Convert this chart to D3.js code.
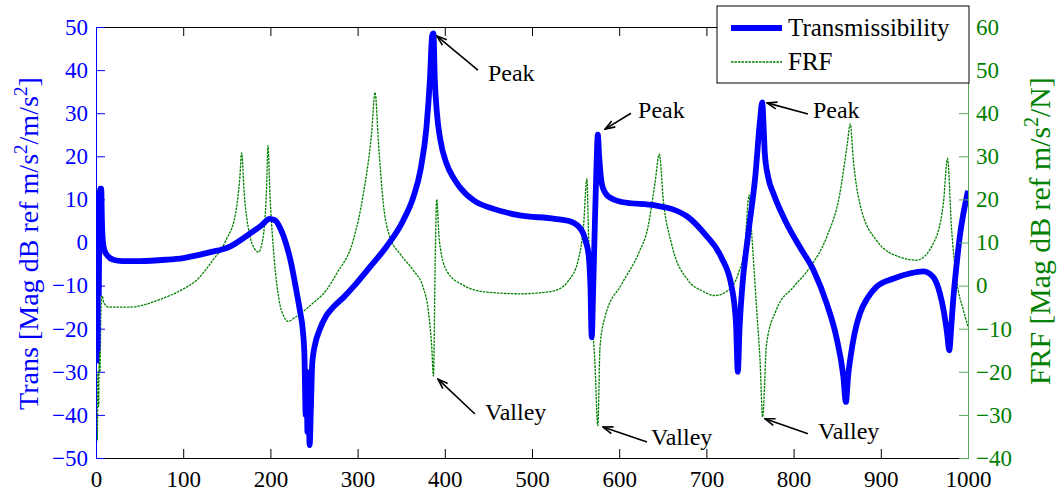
<!DOCTYPE html>
<html>
<head>
<meta charset="utf-8">
<script src="https://cdn.jsdelivr.net/npm/d3@7"></script>
<style>
  body { margin: 0; background: #fff; }
  svg { display: block; }
  svg text { font-family: "Liberation Serif", "Times New Roman", serif; }
</style>
</head>
<body>
<svg width="1061" height="493"></svg>
<script>
// transmissibility (left axis, dB)
var transFreq = [0.3, 1, 1.8, 2.5, 3.2, 4, 5, 6, 6.8, 8, 10, 13, 20, 30, 50, 80, 100, 130, 153, 176, 190, 199, 205, 212, 218, 224, 229, 234, 237, 239, 240.5, 241.5, 242.5, 243.5, 245, 246.5, 248, 252, 256, 264, 272, 285, 295, 314, 333, 352, 364, 372, 379, 383, 385.5, 387, 388.5, 391, 395, 402, 410, 417, 433, 456, 486, 526, 545, 557, 562, 565, 567, 568.5, 570, 572, 574, 575.5, 577, 580, 584, 588, 603, 641, 660, 679, 698, 717, 729, 734, 736, 738, 740.5, 748, 756, 761.5, 764, 766, 767, 771, 777, 792, 807, 823, 838, 849, 857, 860, 862.5, 865, 870, 876, 885, 895, 914, 933, 949, 960, 968, 972, 976, 978.5, 981, 983, 987, 991, 995, 1000];
var transMag = [-28, 3, -25, 8, -12, 10, 12.5, 12.5, 5, 0, -2, -3, -4, -4.3, -4.3, -4, -3.6, -2.3, -1, 2, 4, 5.5, 5.2, 3, -0.3, -5, -10.3, -16, -20, -26, -40, -30, -44, -36, -47, -38, -28, -23, -20.5, -17, -15, -12.5, -10.3, -5.7, -1, 5, 10.6, 16.7, 26.8, 38, 48, 48.5, 38, 30, 23.7, 18.3, 15, 12.9, 9.8, 7.8, 6.3, 5.5, 4.8, 2.8, 0, -3, -10, -22, -12, 3.6, 18, 25, 20, 13.7, 11.5, 10.6, 9.4, 8.6, 7.8, 5.9, 2, -3.4, -10.3, -19, -30, -20, -11.9, 2, 15.2, 28.3, 32.5, 25, 20.6, 15, 11.3, 4.4, -1, -6.5, -14.2, -21.9, -31, -37, -31, -27, -21, -16.5, -12.8, -10.3, -8.4, -7.2, -6.7, -8, -12, -15.7, -21, -25, -19, -13.4, -5, 2, 7, 12];

// FRF (right axis, dB)
var frfFreq = [0, 0.8, 1.5, 2.2, 3, 3.8, 4.6, 5.5, 6.9, 9, 15, 38, 76, 100, 115, 134, 149, 160, 165, 167, 170, 176, 182, 186.5, 190, 193, 195.7, 197.2, 199.5, 204.5, 210, 215, 220, 229, 248, 264, 276, 295, 306.6, 316, 320, 324, 329.5, 337, 348.6, 364, 375, 381, 385, 387, 389, 390.7, 393.7, 402, 421, 448, 486, 517, 532, 542, 553, 559, 563, 564.6, 568.5, 572, 575.5, 578, 583.7, 603, 622, 633, 641, 646, 650.6, 660, 679, 695, 710, 725, 736.6, 744, 749, 752, 757.7, 761.5, 764.5, 769, 780, 800, 819, 838, 853, 861.6, 865, 868.5, 876, 895, 922, 941, 960, 971.7, 976.5, 981, 987, 994.7, 1000];
var frfMag = [-40, -30, -36, -20, -28, -14, -20, -7, -2.3, -4, -5, -5, -3, -0.8, 1.2, 5.9, 10.5, 16.7, 25.2, 30.8, 21.3, 12, 8.5, 7.8, 9.5, 13.6, 22.9, 32.5, 21.3, 5.9, -3.4, -7, -8.3, -7.3, -4.2, -1.1, 2.8, 10.5, 21.3, 35.3, 44.8, 32.9, 19, 11.3, 7.4, 3.5, -0.3, -5.7, -14.2, -21, 5.9, 20, 10.5, 3.5, 0.1, -1.5, -1.9, -1.5, -0.7, 1.2, 5.9, 13.6, 24.8, 13.6, -6.5, -17.3, -32.5, -14.2, -7.3, 0.4, 7.4, 13.6, 23.7, 30.5, 19.8, 9.7, 1.2, -1.2, -2.3, -1.1, 2.8, 9, 21, 12, -5.7, -17.3, -30.5, -13.5, -5.7, -0.3, 4.3, 11.3, 21.3, 32.9, 37.5, 29.1, 19, 10.5, 6.6, 5.9, 9.7, 19, 29.5, 13.6, 1.2, -5.7, -9.5];

var xTicks = [0, 100, 200, 300, 400, 500, 600, 700, 800, 900, 1000];
var leftTicks = [-50, -40, -30, -20, -10, 0, 10, 20, 30, 40, 50];
var rightTicks = [-40, -30, -20, -10, 0, 10, 20, 30, 40, 50, 60];

// annotations, in data units of the left axis: [label, textX, textY, tailX, tailY, headX, headY]
var notes = [
  ["Peak", 449.5, 37.5, 438, 40, 391, 47.9],
  ["Peak", 621.6, 28.9, 613.5, 30, 583.7, 26.3],
  ["Peak", 822.2, 28.9, 816.5, 29.8, 769.5, 32.4],
  ["Valley", 446.1, -41.2, 434.6, -39.8, 392.2, -31.7],
  ["Valley", 636.5, -47.0, 631.9, -46.3, 581.4, -42.8],
  ["Valley", 828.0, -45.6, 816.5, -44.4, 767.2, -40.9]
];

var blue = "#0000ff";
var green = "#008000";
var serif = "'Liberation Serif', 'Times New Roman', serif";

var mLeft = 96, mRight = 968, mTop = 27, mBottom = 458;

var svg = d3.select("svg");

var x = d3.scaleLinear().domain([0, 1000]).range([mLeft, mRight]);
var yL = d3.scaleLinear().domain([-50, 50]).range([mBottom, mTop]);
var yR = d3.scaleLinear().domain([-40, 60]).range([mBottom, mTop]);

var defs = svg.append("defs");
defs.append("clipPath").attr("id", "plot")
    .append("rect").attr("x", mLeft).attr("y", mTop)
    .attr("width", mRight - mLeft).attr("height", mBottom - mTop);
defs.append("marker")
    .attr("id", "arr")
    .attr("viewBox", "0 0 12 10")
    .attr("refX", 11).attr("refY", 5)
    .attr("markerWidth", 12).attr("markerHeight", 10)
    .attr("markerUnits", "userSpaceOnUse")
    .attr("orient", "auto")
    .append("path")
    .attr("d", "M1,1.5 L11,5 L1,8.5")
    .attr("fill", "none").attr("stroke", "#000").attr("stroke-width", 1.6);

// lines
var lineT = d3.line().curve(d3.curveMonotoneX)
    .x(function(d) { return x(d[0]); }).y(function(d) { return yL(d[1]); });
var lineF = d3.line().curve(d3.curveMonotoneX)
    .x(function(d) { return x(d[0]); }).y(function(d) { return yR(d[1]); });

var g = svg.append("g").attr("clip-path", "url(#plot)");

g.append("path")
   .datum(d3.zip(frfFreq, frfMag))
   .attr("d", lineF)
   .attr("fill", "none")
   .attr("stroke", green)
   .attr("stroke-width", 1.3)
   .attr("stroke-dasharray", "2.5,1");

g.append("path")
   .datum(d3.zip(transFreq, transMag))
   .attr("d", lineT)
   .attr("fill", "none")
   .attr("stroke", blue)
   .attr("stroke-width", 5.8)
   .attr("stroke-linejoin", "round");

// axes
function style(sel, col) {
  sel.attr("font-family", null).attr("font-size", null);
  sel.select(".domain").attr("stroke", col);
  sel.selectAll(".tick line").attr("stroke", col);
  sel.selectAll(".tick text").attr("fill", col)
     .style("font-size", "23px").style("font-family", serif);
}

var ax = svg.append("g").attr("transform", "translate(0," + mBottom + ")")
    .call(d3.axisBottom(x).tickValues(xTicks).tickFormat(d3.format("d"))
          .tickSizeInner(-9).tickSizeOuter(0).tickPadding(13));
style(ax, "#000");

var axTop = svg.append("g").attr("transform", "translate(0," + mTop + ")")
    .call(d3.axisTop(x).tickValues(xTicks).tickSizeInner(-9).tickSizeOuter(0).tickFormat(""));
style(axTop, "#000");

var ayL = svg.append("g").attr("transform", "translate(" + mLeft + ",0)")
    .call(d3.axisLeft(yL).tickValues(leftTicks).tickFormat(d3.format("d"))
          .tickSizeInner(-9).tickSizeOuter(0).tickPadding(8));
style(ayL, blue);

var ayR = svg.append("g").attr("transform", "translate(" + mRight + ",0)")
    .call(d3.axisRight(yR).tickValues(rightTicks).tickFormat(d3.format("d"))
          .tickSizeInner(-9).tickSizeOuter(0).tickPadding(8));
style(ayR, "#5aa85a");
ayR.selectAll(".tick text").attr("fill", green);

// axis titles: rotated, fitted between a bottom and a top pixel
function title(px, yBottom, yTop, col, parts) {
  var t = svg.append("text")
     .attr("transform", "translate(" + px + "," + yBottom + ") rotate(-90)")
     .attr("text-anchor", "start")
     .attr("fill", col)
     .style("font-family", serif)
     .style("font-size", "28px");
  parts.forEach(function(p) {
    var s = t.append("tspan").text(p[0]);
    if (p[1]) s.attr("dy", p[1]).style("font-size", "19px");
    else if (p[2]) s.attr("dy", p[2]);
  });
  var len = t.node().getComputedTextLength();
  var k = (yBottom - yTop) / len;
  t.style("font-size", (28 * k) + "px");
  t.selectAll("tspan").each(function() {
    var s = d3.select(this);
    if (s.attr("dy")) s.attr("dy", +s.attr("dy") * k);
    if (s.style("font-size") === "19px") s.style("font-size", (19 * k) + "px");
  });
}

title(38, 410, 77, blue, [["Trans [Mag dB ref m/s"], ["2", -11], ["/m/s", 0, 11], ["2", -11], ["]", 0, 11]]);
title(1050, 385, 77, green, [["FRF [Mag dB ref m/s"], ["2", -11], ["/N]", 0, 11]]);

// annotations
notes.forEach(function(n) {
  svg.append("line")
     .attr("x1", x(n[3])).attr("y1", yL(n[4]))
     .attr("x2", x(n[5])).attr("y2", yL(n[6]))
     .attr("stroke", "#000").attr("stroke-width", 1.6)
     .attr("marker-end", "url(#arr)");
  svg.append("text")
     .attr("x", x(n[1])).attr("y", yL(n[2]))
     .style("font-size", "24px")
     .attr("fill", "#000")
     .text(n[0]);
});

// legend
var lg = svg.append("g");
lg.append("rect")
   .attr("x", 717).attr("y", 6).attr("width", 252).attr("height", 77)
   .attr("fill", "#fff").attr("stroke", "#000").attr("stroke-width", 1);
lg.append("line").attr("x1", 731).attr("x2", 782).attr("y1", 28).attr("y2", 28)
   .attr("stroke", blue).attr("stroke-width", 5.8);
lg.append("text").attr("x", 788).attr("y", 36).style("font-size", "25px").text("Transmissibility");
lg.append("line").attr("x1", 731).attr("x2", 782).attr("y1", 62).attr("y2", 62)
   .attr("stroke", green).attr("stroke-width", 1.3).attr("stroke-dasharray", "2.5,1");
lg.append("text").attr("x", 788).attr("y", 70).style("font-size", "25px").text("FRF");
</script>
</body>
</html>
